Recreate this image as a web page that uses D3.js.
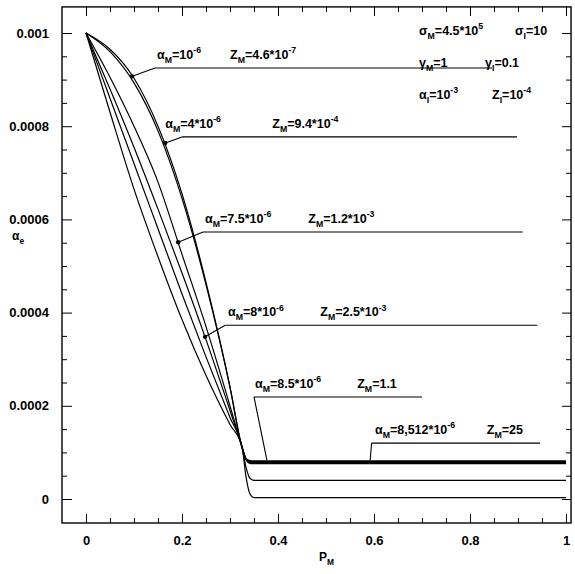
<!DOCTYPE html>
<meta charset="utf-8">
<head>
<style>
body { margin: 0; background: #fff; }
svg text {
  font-family: "Liberation Sans", Arial, sans-serif;
  font-weight: bold;
  fill: #000;
}
.curve { fill: none; stroke: #000; stroke-width: 1.2px; }
.lead { fill: none; stroke: #000; stroke-width: 1.1px; }
.tick line { stroke: #000; stroke-width: 1px; }
</style>
<script src="https://cdn.jsdelivr.net/npm/d3@7"></script>
</head>
<body>
<svg width="575" height="574"></svg>
<script>

// P_M sample points shared by all curves
var pGrid = [0, 0.05, 0.1, 0.15, 0.2, 0.25, 0.3, 0.325, 0.333, 0.34, 0.345, 0.35, 0.36, 0.4, 0.6, 0.8, 1.0];

// alpha_e, one array per curve
var curveA = [0.001, 0.000965, 0.000903, 0.0008, 0.000655, 0.000465, 0.00024, 0.00011, 0.000088, 0.000083, 0.000082, 0.000082, 0.000082, 0.000082, 0.000082, 0.000082, 0.000082];
var curveB = [0.001, 0.00096, 0.000893, 0.00079, 0.000645, 0.00046, 0.00024, 0.000112, 0.000087, 0.000081, 0.00008, 0.00008, 0.00008, 0.00008, 0.00008, 0.00008, 0.00008];
var curveC = [0.001, 0.000905, 0.0008, 0.00068, 0.000525, 0.00037, 0.0002, 0.000112, 0.000086, 0.000079, 0.000078, 0.000078, 0.000078, 0.000078, 0.000078, 0.000078, 0.000078];
var curveD = [0.001, 0.00088, 0.000755, 0.000622, 0.000485, 0.000342, 0.00019, 0.000112, 0.000085, 0.000077, 0.000076, 0.000076, 0.000076, 0.000076, 0.000076, 0.000076, 0.000076];
var curveE = [0.001, 0.00086, 0.00072, 0.00058, 0.00044, 0.000305, 0.000175, 0.000112, 0.00007, 0.000047, 0.000042, 0.00004, 0.00004, 0.00004, 0.00004, 0.00004, 0.00004];
var curveF = [0.001, 0.00083, 0.000665, 0.00052, 0.000385, 0.000265, 0.00016, 0.000112, 0.00005, 0.000015, 0.000006, 0.000003, 0.000003, 0.000003, 0.000003, 0.000003, 0.000003];

var curves = [curveF, curveE, curveD, curveC, curveB, curveA];

// curve annotations
var labAlpha = ["α_{M}=10^{-6}", "α_{M}=4*10^{-6}", "α_{M}=7.5*10^{-6}", "α_{M}=8*10^{-6}", "α_{M}=8.5*10^{-6}", "α_{M}=8,512*10^{-6}"];
var labZ = ["Z_{M}=4.6*10^{-7}", "Z_{M}=9.4*10^{-4}", "Z_{M}=1.2*10^{-3}", "Z_{M}=2.5*10^{-3}", "Z_{M}=1.1", "Z_{M}=25"];
var labAlphaP = [0.148, 0.165, 0.248, 0.296, 0.352, 0.602];
var labZP = [0.3, 0.388, 0.463, 0.488, 0.565, 0.835];
var leadY = [0.000925, 0.000777, 0.000573, 0.000373, 0.000219, 0.00012];
var leadP0 = [0.144, 0.2, 0.244, 0.29, 0.35, 0.595];
var leadP1 = [0.846, 0.898, 0.91, 0.94, 0.7, 0.946];
var targetP = [0.096, 0.165, 0.192, 0.248, 0.377, 0.592];
var targetY = [0.000907, 0.000764, 0.000551, 0.000348, 0.000083, 0.000082];

// parameter block, top right
var infoLeft = ["σ_{M}=4.5*10^{5}", "γ_{M}=1", "α_{I}=10^{-3}"];
var infoRight = ["σ_{I}=10", "γ_{I}=0.1", "Z_{I}=10^{-4}"];

var xMajor = [0, 0.2, 0.4, 0.6, 0.8, 1];
var xTickLabels = ["0", "0.2", "0.4", "0.6", "0.8", "1"];
var yMajor = [0, 0.0002, 0.0004, 0.0006, 0.0008, 0.001];
var yTickLabels = ["0", "0.0002", "0.0004", "0.0006", "0.0008", "0.001"];

var svg = d3.select("svg");

var x = d3.scaleLinear().domain([0, 1]).range([86, 566]);
var y = d3.scaleLinear().domain([0, 0.001]).range([499, 33]);

var fLeft = x(-0.05), fRight = x(1.0105), fTop = y(0.001056), fBottom = y(-0.0000515);

var xMinor = d3.range(1, 20).map(function(i) { return i * 0.05; })
    .filter(function(v) { return Math.round(v / 0.05) % 4 !== 0; });
var yMinor = d3.range(1, 20).map(function(i) { return i * 0.00005; })
    .filter(function(v) { return Math.round(v / 0.00005) % 4 !== 0; });

function addAxis(axis, tx, ty, labels) {
  var g = svg.append("g").attr("transform", "translate(" + tx + "," + ty + ")").call(axis);
  g.select(".domain").remove();
  g.selectAll("text").style("font-size", "13px").style("font-weight", "bold").attr("fill", "#000");
  if (!labels) g.selectAll("text").remove();
  return g;
}

var fmtX = function(d) { return xTickLabels[xMajor.indexOf(d)]; };
var fmtY = function(d) { return yTickLabels[yMajor.indexOf(d)]; };

addAxis(d3.axisBottom(x).tickValues(xMajor).tickSize(-9).tickPadding(13).tickFormat(fmtX), 0, fBottom, true);
addAxis(d3.axisBottom(x).tickValues(xMinor).tickSize(-5), 0, fBottom, false);
addAxis(d3.axisTop(x).tickValues(xMajor).tickSize(-9), 0, fTop, false);
addAxis(d3.axisTop(x).tickValues(xMinor).tickSize(-5), 0, fTop, false);
addAxis(d3.axisLeft(y).tickValues(yMajor).tickSize(-10).tickPadding(13).tickFormat(fmtY), fLeft, 0, true);
addAxis(d3.axisLeft(y).tickValues(yMinor).tickSize(-5), fLeft, 0, false);
addAxis(d3.axisRight(y).tickValues(yMajor).tickSize(-9), fRight, 0, false);
addAxis(d3.axisRight(y).tickValues(yMinor).tickSize(-5), fRight, 0, false);

svg.append("rect")
    .attr("x", fLeft).attr("y", fTop)
    .attr("width", fRight - fLeft).attr("height", fBottom - fTop)
    .attr("fill", "none").attr("stroke", "#000").attr("stroke-width", 1.4);

// text with _{sub} and ^{sup}
function rich(str, px, py, size) {
  var t = svg.append("text").attr("x", px).attr("y", py).style("font-size", size + "px");
  var parts = str.match(/_\{[^}]*\}|\^\{[^}]*\}|[^_^]+/g);
  var shift = 0;
  parts.forEach(function(p) {
    var dy = 0, s = size, txt = p;
    if (p[0] === "_") { txt = p.slice(2, -1); dy = size * 0.3; s = size * 0.7; }
    else if (p[0] === "^") { txt = p.slice(2, -1); dy = -size * 0.45; s = size * 0.7; }
    t.append("tspan").attr("dy", dy - shift).style("font-size", s + "px").text(txt);
    shift = dy;
  });
  return t;
}

var line = d3.line()
    .x(function(d) { return x(d[0]); })
    .y(function(d) { return y(d[1]); })
    .curve(d3.curveMonotoneX);

svg.append("g").selectAll("path")
    .data(curves)
    .enter().append("path")
      .attr("class", "curve")
      .attr("stroke-width", function(d, i) { return i === curves.length - 1 ? 2 : 1.2; })
      .attr("d", function(d) { return line(d.map(function(v, i) { return [pGrid[i], v]; })); });

// annotations
labAlpha.forEach(function(s, i) {
  var ly = y(leadY[i]);
  rich(s, x(labAlphaP[i]), ly - 9, 12.5);
  rich(labZ[i], x(labZP[i]), ly - 9, 12.5);
  svg.append("line").attr("class", "lead")
      .attr("x1", x(leadP0[i])).attr("x2", x(leadP1[i]))
      .attr("y1", ly).attr("y2", ly);
  svg.append("path").attr("class", "lead")
      .attr("d", d3.line()([[x(leadP0[i]), ly], [x(targetP[i]), y(targetY[i])]]));
  if (i < 4) {
    svg.append("circle").attr("cx", x(targetP[i])).attr("cy", y(targetY[i])).attr("r", 2.2);
  }
});

infoLeft.forEach(function(s, i) { rich(s, 419, 35 + i * 32, 12.5); });
infoRight.forEach(function(s, i) { rich(s, [515, 485, 492][i], 35 + i * 32, 12.5); });

// axis titles
rich("α_{e}", 12, 240, 12);
rich("P_{M}", x(0.5) - 7, 561, 12);

</script>
</body>
